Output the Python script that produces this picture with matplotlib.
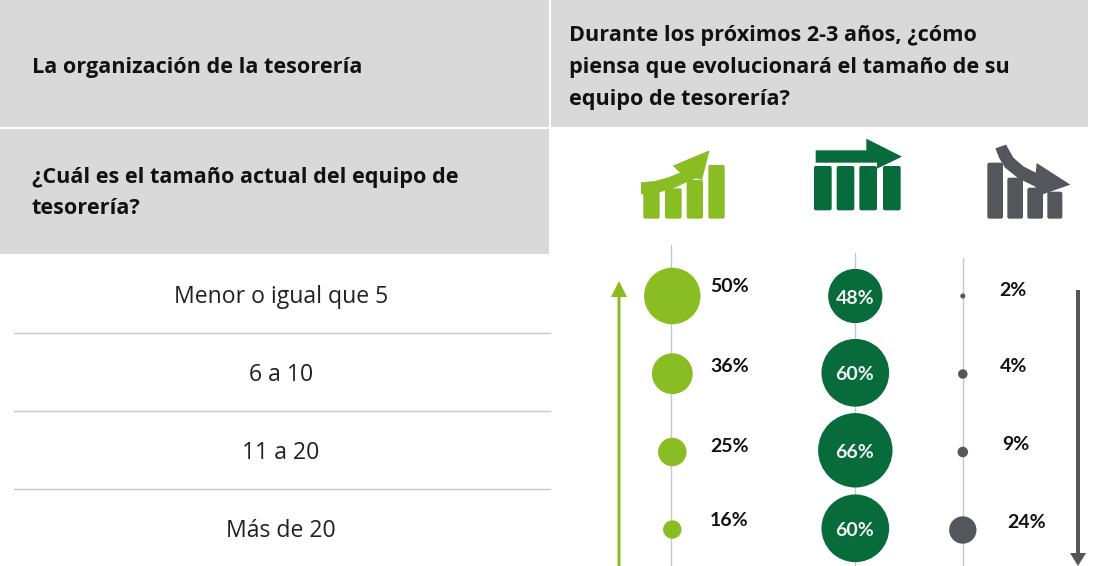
import numpy as np
import matplotlib
matplotlib.use("Agg")
import matplotlib.pyplot as plt
from matplotlib.patches import Rectangle, FancyBboxPatch, Polygon

# ---- data ----
categories = ["Menor o igual que 5", "6 a 10", "11 a 20", "Más de 20"]
aumentar = [50, 36, 25, 16]
mantener = [48, 60, 66, 60]
disminuir = [2, 4, 9, 24]
header_left = "La organización de la tesorería"
header_right = ["Durante los próximos 2-3 años, ¿cómo",
                "piensa que evolucionará el tamaño de su",
                "equipo de tesorería?"]
header_sub = ["¿Cuál es el tamaño actual del equipo de", "tesorería?"]

GREEN = "#8ABD24"
DARK = "#076B3B"
GRAY = "#54565B"
HEAD = "#D9D9D9"
LINE = "#C8C8C8"
W, H = 1094, 566

fig = plt.figure(figsize=(W / 100, H / 100), dpi=100)
ax = fig.add_axes([0, 0, 1, 1])
ax.set_xlim(0, W)
ax.set_ylim(H, 0)
ax.axis("off")

TF = "Open Sans"
LF = "Lato"
HS = 15.6

# header blocks
for x, y, w, h in [(0, 0, 549, 127), (551, 0, 537, 127), (0, 129, 549, 125)]:
    ax.add_patch(Rectangle((x, y), w, h, fc=HEAD, ec="none", zorder=1))
ax.text(32, 67, header_left, family=TF, weight="bold", size=HS, va="center", color="#111111", zorder=5)
for yy, line in zip([35, 67, 99], header_right):
    ax.text(569, yy, line, family=TF, weight="bold", size=HS, va="center", color="#111111", zorder=5)
for yy, line in zip([178, 209], header_sub):
    ax.text(32, yy, line, family=TF, weight="bold", size=HS, va="center", color="#111111", zorder=5)

# rows
for yy, cat in zip([297, 375, 453, 531], categories):
    ax.text(281, yy, cat, family=TF, size=16.6, ha="center", va="center", color="#222222")
for yy in [333, 411, 489]:
    ax.plot([14, 550], [yy, yy], color=LINE, lw=1, zorder=2)

# columns
for x, t in zip([671, 855, 963], [245, 253, 258]):
    ax.plot([x, x], [t, H], color=LINE, lw=1, zorder=2)


def diam(v):
    v = np.asarray(v, dtype=float)
    return np.where(v < 5, 2.25 * v + 0.5, 1.12 * v + 0.5)


def bubbles(x, ys, vals, color):
    d = diam(vals) * 0.72  # px to pt
    ax.scatter([x] * len(vals), ys, s=d ** 2, color=color, linewidths=0, zorder=3)


bubbles(672.3, [296, 373.7, 452, 529.5], aumentar, GREEN)
bubbles(855.3, [296, 372.8, 450.3, 528.3], mantener, DARK)
bubbles(962.8, [296, 374, 452, 530], disminuir, GRAY)

PS = 14
for yy, v in zip([286, 366, 446, 521], aumentar):
    ax.text(710, yy, f"{v}%", family=LF, weight="bold", size=PS, va="center", color="#111111", zorder=5)
for yy, v in zip([298, 375, 452, 531], mantener):
    ax.text(855, yy, f"{v}%", family=LF, weight="bold", size=PS, ha="center", va="center", color="#F2F2F2", zorder=5)
for xx, yy, v in zip([999, 1000, 1002, 1007], [290, 367, 445, 522], disminuir):
    ax.text(xx, yy, f"{v}%", family=LF, weight="bold", size=PS, va="center", color="#111111", zorder=5)

# side arrows
ax.add_patch(Polygon([(617.5, H), (617.5, 297), (611, 297), (619, 281), (627, 297), (620.5, 297), (620.5, H)],
                     fc=GREEN, ec="none", zorder=3))
ax.add_patch(Polygon([(1076, 290), (1080, 290), (1080, 553), (1086, 553), (1078, 566), (1070, 553), (1076, 553)],
                     fc=GRAY, ec="none", zorder=3))


# icons (coordinates from a 3x crop with origin 590,125)
def Z(pts):
    return [(590 + a / 3, 125 + b / 3) for a, b in pts]


def bars(spans, color):
    for x0, x1, y0, y1 in spans:
        (a, b), (c, e) = Z([(x0, y0), (x1, y1)])
        ax.add_patch(FancyBboxPatch((a + 1.5, b + 1.5), c - a - 3, e - b - 3,
                                    boxstyle="round,pad=1.5,rounding_size=2", fc=color, ec="none", zorder=3))


def arrow(pts, color):
    ax.add_patch(Polygon(Z(pts), fc=color, ec="none", zorder=4))


bars([(160, 209, 200, 281), (225, 275, 190, 281), (290, 339, 165, 281), (355, 404, 120, 281)], GREEN)
arrow([(153, 172), (195, 168), (235, 157), (270, 143), (248, 122), (359, 76), (336, 165), (318, 160), (292, 171),
       (250, 190), (205, 203), (153, 208)], GREEN)

bars([(672, 725, 123, 256), (740, 793, 123, 256), (808, 861, 123, 256), (879, 932, 123, 256)], DARK)
arrow([(677, 76), (829, 76), (829, 41), (936, 95), (861, 131), (861, 113), (677, 113)], DARK)

bars([(1192, 1239, 113, 281), (1252, 1299, 158, 281), (1312, 1359, 188, 281), (1372, 1417, 200, 281)], GRAY)
arrow([(1216, 70), (1248, 59), (1270, 98), (1300, 124), (1337, 143), (1340, 114), (1441, 179), (1355, 209),
       (1334, 184), (1285, 160), (1245, 128), (1228, 100)], GRAY)

fig.savefig("out.png", dpi=100, facecolor="white")
